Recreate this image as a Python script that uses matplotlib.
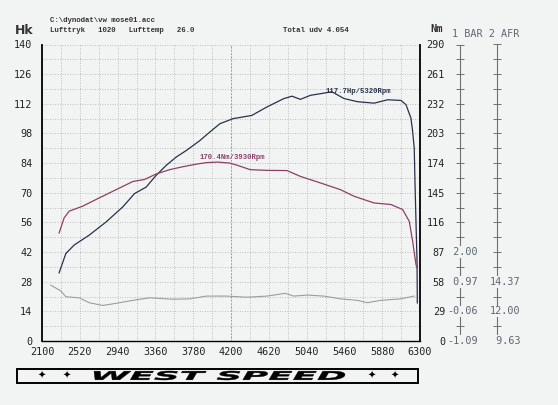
import numpy as np
import matplotlib
matplotlib.use('Agg')
import matplotlib.pyplot as plt
from matplotlib.patches import Rectangle, PathPatch
from matplotlib.textpath import TextPath
from matplotlib.font_manager import FontProperties
from matplotlib.transforms import Affine2D, blended_transform_factory

# --- data ---
power_rpm = [2290, 2365, 2457, 2625, 2812, 2997, 3128, 3258, 3370, 3482, 3593, 3705,
             3850, 3960, 4077, 4223, 4431, 4599, 4784, 4877, 4971, 5082, 5200, 5320,
             5455, 5604, 5790, 5940, 6088, 6144, 6199, 6218, 6236, 6244, 6258, 6267, 6270]
power_hk = [32.2, 41.3, 45.3, 50.0, 56.2, 63.3, 69.6, 72.7, 78.3, 83.0, 86.9, 90.0,
            94.5, 98.5, 102.6, 105.0, 106.5, 110.5, 114.4, 115.6, 114.1, 116.0, 116.8, 117.7,
            114.5, 113.0, 112.3, 113.9, 113.6, 111.6, 105.3, 99.0, 91.0, 75.5, 52.0, 37.7, 18.0]

torque_rpm = [2290, 2346, 2402, 2550, 2737, 2923, 3109, 3240, 3370, 3519, 3667, 3817,
              3930, 4050, 4189, 4300, 4412, 4600, 4822, 4971, 5194, 5417, 5566, 5790,
              5977, 6107, 6181, 6218, 6255, 6265]
torque_nm = [105.7, 120.4, 127.0, 131.8, 140.0, 148.0, 156.0, 158.0, 163.4, 167.6, 170.5, 173.0,
             174.5, 175.0, 174.0, 171.0, 167.6, 166.9, 166.7, 161.0, 154.6, 148.0, 141.6, 135.0,
             133.5, 128.6, 117.0, 97.6, 74.9, 72.0]

afr_rpm = [2197, 2309, 2365, 2513, 2625, 2774, 2923, 3109, 3295, 3556, 3742, 3928, 4152,
           4375, 4599, 4803, 4896, 5045, 5231, 5417, 5604, 5715, 5865, 6088, 6236]
afr = [14.10, 13.63, 13.17, 13.08, 12.69, 12.47, 12.64, 12.88, 13.08, 12.97, 13.00, 13.22, 13.22,
       13.13, 13.22, 13.44, 13.22, 13.30, 13.22, 13.00, 12.88, 12.69, 12.88, 13.00, 13.22]

rpm_ticks = [2100, 2520, 2940, 3360, 3780, 4200, 4620, 5040, 5460, 5880, 6300]
hk_ticks = [0, 14, 28, 42, 56, 70, 84, 98, 112, 126, 140]
nm_ticks = [0, 29, 58, 87, 116, 145, 174, 203, 232, 261, 290]
bar_labels = [-1.09, -0.06, 0.97, 2.00]
afr_labels = [9.63, 12.00, 14.37]
torque_peak = (3930, 170.4)

BG = '#f2f4f3'
PWR = '#29314a'
TRQ = '#8c3f69'
LAB = '#5e6675'
plt.rcParams['font.family'] = 'DejaVu Sans Mono'

fig = plt.figure(figsize=(5.58, 4.05), dpi=100, facecolor=BG)
W, H = 558.0, 405.0
ax = fig.add_axes([42 / W, 1 - 341 / H, 378 / W, 296.5 / H], facecolor=BG)

ax.set_xlim(2100, 6300)
ax.set_ylim(0, 140)
ax.set_xticks(rpm_ticks)
ax.set_xticks(np.arange(2100, 6301, 210), minor=True)
ax.set_yticks(hk_ticks)
ax.set_yticks(np.arange(0, 141, 7), minor=True)
ax.grid(which='both', color='#ababab', lw=0.6, ls=(0, (1, 2)))
ax.axvline(4200, color='#888888', lw=0.6, ls=(0, (2, 2)), zorder=1)
ax.tick_params(which='both', length=0, labelsize=7.3, colors='#222222')
ax.tick_params(axis='x', pad=4)
ax.tick_params(axis='y', pad=7)
ax.spines['top'].set_visible(False)
ax.spines['right'].set_visible(False)
ax.spines['left'].set_linewidth(1.3)
ax.spines['bottom'].set_linewidth(1.0)

ax.plot(power_rpm, power_hk, color=PWR, lw=0.9, zorder=4)
i = int(np.argmax(power_hk))
ax.text(power_rpm[i] - 65, power_hk[i], f"{power_hk[i]}Hp/{power_rpm[i]}Rpm",
        family='Liberation Mono', weight='bold', size=5.2, color=PWR, va='center', ha='left', zorder=6)

# torque axis
ax2 = ax.twinx()
ax2.set_ylim(0, 290)
ax2.set_yticks(nm_ticks)
ax2.tick_params(length=0, pad=18, labelsize=7.3, colors='#222222')
for lab in ax2.get_yticklabels():
    lab.set_horizontalalignment('right')
for s in ['top', 'left', 'bottom']:
    ax2.spines[s].set_visible(False)
ax2.spines['right'].set_linewidth(1.3)
ax2.plot(torque_rpm, torque_nm, color=TRQ, lw=0.9, zorder=4)
ax2.text(torque_peak[0] - 75, torque_peak[1] + 9.5, f"{torque_peak[1]}Nm/{torque_peak[0]}Rpm",
         family='Liberation Mono', weight='bold', size=5.2, color=TRQ, va='center', ha='left')

# BAR and AFR scales
ax3 = ax.twinx()
ax3.set_ylim(-1.09, -1.09 + 10 * 1.03)
ax4 = ax.twinx()
ax4.set_ylim(9.63, 9.63 + 10 * 2.37)
for a, pos, lo, step in [(ax3, 1.106, -1.09, 0.515), (ax4, 1.204, 9.63, 1.185)]:
    for s in ['top', 'left', 'bottom']:
        a.spines[s].set_visible(False)
    a.spines['right'].set_position(('axes', pos))
    a.spines['right'].set_color('#707070')
    a.spines['right'].set_linewidth(0.8)
    a.set_yticks(lo + step * np.arange(21))
    a.tick_params(direction='inout', length=6, width=0.7, color='#707070', labelright=False)

ax4.plot(afr_rpm, afr, color='#9c9c9c', lw=0.8, zorder=3)

bar_tr = blended_transform_factory(ax4.transAxes, ax3.transData)
for v in bar_labels:
    ax4.text(1.153, v, f"{v:5.2f}", transform=bar_tr, ha='right', va='center', size=7.3, color=LAB,
             bbox=dict(facecolor=BG, edgecolor='none', pad=0.6), clip_on=False)
afr_tr = blended_transform_factory(ax4.transAxes, ax4.transData)
for v in afr_labels:
    ax4.text(1.265, v, f"{v:5.2f}", transform=afr_tr, ha='right', va='center', size=7.3, color=LAB,
             bbox=dict(facecolor=BG, edgecolor='none', pad=0.6), clip_on=False)

# header texts
fig.text(15 / W, 1 - 30 / H, 'Hk', family='DejaVu Sans', weight='bold', size=9, va='center', color='#333333')
fig.text(50 / W, 1 - 21 / H, 'C:\\dynodat\\vw mose01.acc', family='Liberation Mono', weight='bold',
         size=5.3, va='center', color='#333333')
fig.text(50 / W, 1 - 30 / H, 'Lufttryk   1020   Lufttemp   26.0', family='Liberation Mono', weight='bold',
         size=5.3, va='center', color='#333333')
fig.text(283 / W, 1 - 30 / H, 'Total udv 4.054', family='Liberation Mono', weight='bold',
         size=5.3, va='center', color='#333333')
fig.text(430 / W, 1 - 29 / H, 'Nm', weight='bold', size=7.5, va='center', color='#333333')
fig.text(452 / W, 1 - 34 / H, '1 BAR 2 AFR', size=7.3, va='center', color=LAB)

# logo strip
fig.add_artist(Rectangle((17 / W, 1 - 383 / H), 401 / W, 14 / H, transform=fig.transFigure,
                         fill=False, ec='black', lw=1.4))
fp = FontProperties(family='DejaVu Sans', weight='bold', style='italic')
tp = TextPath((0, 0), 'WEST SPEED', size=10, prop=fp)
bb = tp.get_extents()
fx0, fx1 = 94 / W, 345 / W
fy0, fy1 = 1 - 380 / H, 1 - 371 / H
tr = Affine2D().translate(-bb.x0, -bb.y0).scale((fx1 - fx0) / bb.width, (fy1 - fy0) / bb.height) \
    .translate(fx0, fy0) + fig.transFigure
fig.add_artist(PathPatch(tp, transform=tr, fc='black', ec='black', lw=0.3))
for px in [42, 67, 372, 395]:
    fig.text(px / W, 1 - 376 / H, '\u2726', family='DejaVu Sans', size=7, ha='center', va='center')

fig.savefig('out.png', dpi=100, facecolor=BG)
